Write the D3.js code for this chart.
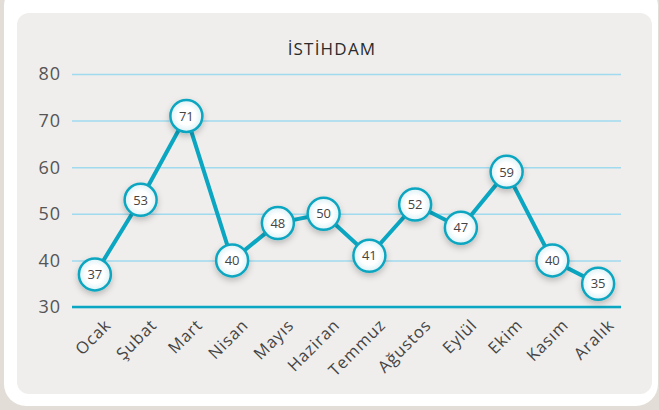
<!DOCTYPE html>
<html>
<head>
<meta charset="utf-8">
<script src="https://cdn.jsdelivr.net/npm/d3@7"></script>
<style>
  html, body { margin: 0; padding: 0; background: #e3ddd7; }
  svg { display: block; }
</style>
</head>
<body>
<div id="chart"></div>
<script>
const months = ["Ocak", "Şubat", "Mart", "Nisan", "Mayıs", "Haziran", "Temmuz", "Ağustos", "Eylül", "Ekim", "Kasım", "Aralık"];
const values = [37, 53, 71, 40, 48, 50, 41, 52, 47, 59, 40, 35];
const yTicks = [30, 40, 50, 60, 70, 80];
const title = "İSTİHDAM";

const W = 659, H = 410;
const margin = { top: 74, right: 38, bottom: 103, left: 72 };
const width = W - margin.left - margin.right;
const height = H - margin.top - margin.bottom;

const teal = "#0ba6c1";
const font = "'Open Sans', Lato, sans-serif";

const root = d3.select("#chart").append("svg")
    .attr("width", W)
    .attr("height", H);

const defs = root.append("defs");

// soft shadow under the circles
const shadow = defs.append("filter")
    .attr("id", "shadow")
    .attr("x", "-50%").attr("y", "-50%")
    .attr("width", "200%").attr("height", "200%");
shadow.append("feDropShadow")
    .attr("dx", 0).attr("dy", 3)
    .attr("stdDeviation", 3)
    .attr("flood-color", "#000")
    .attr("flood-opacity", 0.22);

const grad = defs.append("radialGradient").attr("id", "dotFill");
grad.append("stop").attr("offset", "55%").attr("stop-color", "#ffffff");
grad.append("stop").attr("offset", "100%").attr("stop-color", "#dcf1f5");

// card + panel
root.append("rect")
    .attr("x", 4).attr("y", -16)
    .attr("width", 654).attr("height", 422)
    .attr("rx", 22)
    .attr("fill", "#ffffff");

root.append("rect")
    .attr("x", 17).attr("y", 13)
    .attr("width", 635).attr("height", 381)
    .attr("rx", 12)
    .attr("fill", "#efeeec");

root.append("text")
    .attr("x", 332)
    .attr("y", 55)
    .attr("text-anchor", "middle")
    .style("font-family", font)
    .style("font-size", "17px")
    .style("letter-spacing", "1.2px")
    .attr("fill", "#2b2b2b")
    .text(title);

const svg = root.append("g")
    .attr("transform", `translate(${margin.left}, ${margin.top})`);

// scales
var x = d3.scalePoint()
    .domain(months)
    .range([0, width])
    .padding(0.5);

var y = d3.scaleLinear()
    .domain([30, 80])
    .range([height, 0]);

// gridlines
svg.append("g")
    .call(d3.axisLeft(y)
        .tickValues(yTicks)
        .tickSize(-width)
        .tickFormat("")
    )
    .call(g => g.select(".domain").remove())
    .selectAll(".tick line")
    .attr("stroke", "#9fdaef")
    .attr("stroke-width", 1.5);

// y labels
svg.append("g")
    .selectAll("text")
    .data(yTicks)
    .join("text")
    .attr("x", -11)
    .attr("y", d => y(d))
    .attr("dy", "0.36em")
    .attr("text-anchor", "end")
    .style("font-family", font)
    .style("font-size", "18px")
    .style("letter-spacing", "1px")
    .attr("fill", "#555")
    .text(d => d);

// baseline
svg.append("line")
    .attr("x1", 0).attr("x2", width)
    .attr("y1", y(30)).attr("y2", y(30))
    .attr("stroke", teal)
    .attr("stroke-width", 2.5);

// x labels, rotated
svg.append("g")
    .selectAll("text")
    .data(months)
    .join("text")
    .attr("transform", d => `translate(${x(d) + 9}, ${height + 11}) rotate(-45)`)
    .attr("text-anchor", "end")
    .attr("dy", "0.7em")
    .style("font-family", font)
    .style("font-size", "16.5px")
    .style("letter-spacing", "0.9px")
    .attr("fill", "#444")
    .text(d => d);

// line
var line = d3.line()
    .x((d, i) => x(months[i]))
    .y(d => y(d));

svg.append("path")
    .datum(values)
    .attr("fill", "none")
    .attr("stroke", teal)
    .attr("stroke-width", 4)
    .attr("stroke-linejoin", "round")
    .attr("d", line);

// points
const dots = svg.append("g")
    .selectAll("g")
    .data(values)
    .join("g")
    .attr("transform", (d, i) => `translate(${x(months[i])}, ${y(d)})`);

dots.append("circle")
    .attr("r", 16)
    .attr("fill", "url(#dotFill)")
    .attr("stroke", teal)
    .attr("stroke-width", 2.5)
    .attr("filter", "url(#shadow)");

dots.append("text")
    .attr("text-anchor", "middle")
    .attr("dy", "0.36em")
    .style("font-family", font)
    .style("font-size", "13px")
    .attr("fill", "#444")
    .text(d => d);
</script>
</body>
</html>
